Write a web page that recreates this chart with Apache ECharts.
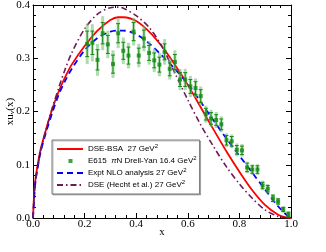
<!DOCTYPE html>
<html><head><meta charset="utf-8">
<script src="https://cdn.jsdelivr.net/npm/echarts@6.0.0/dist/echarts.min.js"></script>
<style>html,body{margin:0;padding:0;background:#fff}#c{width:326px;height:252px}</style>
</head><body><div id="c"></div>
<script>
// ---- data ----
const xTicks = [0.0, 0.2, 0.4, 0.6, 0.8, 1.0];
const yTicks = [0.0, 0.1, 0.2, 0.3, 0.4];

const curveX = [0, 0.005, 0.01, 0.02, 0.03, 0.05, 0.075, 0.1, 0.125, 0.15, 0.2, 0.25, 0.3, 0.33, 0.35, 0.4, 0.45, 0.5, 0.55, 0.6, 0.65, 0.7, 0.75, 0.8, 0.85, 0.9, 0.95, 0.98, 1.0];
const dseBsa = [0, 0.05, 0.075, 0.105, 0.13, 0.165, 0.205, 0.238, 0.265, 0.288, 0.323, 0.352, 0.372, 0.377, 0.377, 0.370, 0.350, 0.322, 0.288, 0.250, 0.208, 0.166, 0.125, 0.087, 0.052, 0.024, 0.006, 0.001, 0];
const exptNlo = [0, 0.04, 0.07, 0.10, 0.125, 0.16, 0.198, 0.232, 0.258, 0.280, 0.315, 0.338, 0.350, 0.352, 0.352, 0.345, 0.328, 0.305, 0.280, 0.252, 0.218, 0.183, 0.149, 0.117, 0.085, 0.053, 0.022, 0.007, 0];
const dseHecht = [0, 0.045, 0.07, 0.10, 0.127, 0.165, 0.207, 0.245, 0.28, 0.31, 0.355, 0.383, 0.395, 0.396, 0.394, 0.380, 0.358, 0.322, 0.272, 0.222, 0.175, 0.134, 0.096, 0.064, 0.037, 0.015, 0.003, 0.0005, 0];

const e615X = [0.21,0.23,0.25,0.27,0.29,0.31,0.33,0.35,0.37,0.39,0.41,0.43,0.45,0.47,0.49,0.51,0.53,0.55,0.57,0.59,0.61,0.63,0.65,0.67,0.69,0.71,0.73,0.75,0.77,0.79,0.81,0.83,0.85,0.87,0.89,0.91,0.93,0.95,0.97,0.99];
const e615Y = [0.327,0.329,0.297,0.347,0.326,0.289,0.347,0.314,0.305,0.350,0.305,0.337,0.310,0.296,0.288,0.312,0.280,0.293,0.260,0.260,0.247,0.244,0.229,0.195,0.187,0.184,0.176,0.146,0.144,0.128,0.127,0.095,0.091,0.091,0.061,0.055,0.037,0.031,0.016,0.007];
const e615ErrTot = [0.038,0.035,0.030,0.032,0.026,0.026,0.028,0.025,0.024,0.026,0.022,0.024,0.022,0.022,0.022,0.024,0.020,0.022,0.020,0.020,0.020,0.018,0.018,0.016,0.016,0.015,0.015,0.013,0.013,0.012,0.012,0.011,0.010,0.010,0.009,0.009,0.008,0.007,0.006,0.005];
const e615ErrStat = [0.024,0.022,0.019,0.020,0.017,0.017,0.018,0.016,0.016,0.017,0.014,0.016,0.014,0.014,0.014,0.015,0.013,0.014,0.013,0.013,0.013,0.012,0.012,0.011,0.011,0.010,0.010,0.009,0.009,0.008,0.008,0.008,0.007,0.007,0.006,0.006,0.006,0.005,0.004,0.004];

const names = {
  bsa: 'DSE-BSA  27 GeV{sup|2}',
  e615: 'E615  {it|π}N Drell-Yan 16.4 GeV{sup|2}',
  nlo: 'Expt NLO analysis 27 GeV{sup|2}',
  hecht: 'DSE (Hecht et al.) 27 GeV{sup|2}'
};

// ---- build ----
const pairs = (xs, ys) => xs.map((x, i) => [x, ys[i]]);
const errData = e615X.map((x, i) => [x, e615Y[i], e615ErrTot[i], e615ErrStat[i]]);

const chart = echarts.init(document.getElementById('c'), null, {renderer: 'canvas'});
const serif = 'Liberation Serif';
const sans = 'Liberation Sans';

function xAxisBase(pos, show) {
  return {
    type: 'value', position: pos, min: 0, max: 1, interval: 0.2,
    axisLine: {show: true, onZero: false, lineStyle: {color: '#000', width: 1}},
    axisTick: {show: true, inside: true, length: 5, lineStyle: {color: '#000'}},
    minorTick: {show: true, splitNumber: 5, length: 3, lineStyle: {color: '#000'}},
    splitLine: {show: false},
    axisLabel: {show: show, margin: 1, color: '#000', fontFamily: serif, fontSize: 11,
      formatter: v => v.toFixed(1)}
  };
}
function yAxisBase(pos, show) {
  return {
    type: 'value', position: pos, min: 0, max: 0.4, interval: 0.1,
    axisLine: {show: true, onZero: false, lineStyle: {color: '#000', width: 1}},
    axisTick: {show: true, inside: true, length: 5, lineStyle: {color: '#000'}},
    minorTick: {show: true, splitNumber: 5, length: 3, lineStyle: {color: '#000'}},
    splitLine: {show: false},
    axisLabel: {show: show, margin: 3, color: '#000', fontFamily: serif, fontSize: 11,
      formatter: v => v.toFixed(1)}
  };
}

const xB = xAxisBase('bottom', true);
xB.name = 'x'; xB.nameLocation = 'middle'; xB.nameGap = 9; xB.nameMoveOverlap = false;
xB.nameTextStyle = {color: '#000', fontFamily: serif, fontSize: 11};
const yL = yAxisBase('left', true);
yL.name = 'xu{sub|v}(x)'; yL.nameLocation = 'middle'; yL.nameGap = 17; yL.nameMoveOverlap = false;
yL.nameTextStyle = {color: '#000', fontFamily: serif, fontSize: 11,
  rich: {sub: {fontFamily: serif, fontSize: 7, verticalAlign: 'bottom', padding: [4, 0, 0, 0]}}};

const iconSquare = 'path://M0,0M26,9M11.5,2.5h4v4h-4z';

chart.setOption({
  animation: false,
  backgroundColor: '#fff',
  grid: {left: 33, right: 35, top: 5, bottom: 34, containLabel: false, outerBoundsMode: 'none'},
  xAxis: [xB, xAxisBase('top', false)],
  yAxis: [yL, yAxisBase('right', false)],
  legend: {
    orient: 'vertical', left: 52, top: 140,
    padding: [3, 3, 3, 4], itemGap: 0, itemWidth: 26, itemHeight: 9,
    backgroundColor: '#fff', borderColor: '#777', borderWidth: 1, borderRadius: 0,
    shadowColor: 'rgba(0,0,0,0.25)', shadowOffsetX: 1, shadowOffsetY: 1, shadowBlur: 0,
    selectedMode: false,
    data: [
      {name: 'bsa', itemStyle: {opacity: 0}},
      {name: 'e615', icon: iconSquare},
      {name: 'nlo', itemStyle: {opacity: 0}},
      {name: 'hecht', itemStyle: {opacity: 0}}
    ],
    formatter: n => names[n],
    textStyle: {color: '#000', fontFamily: sans, fontSize: 8, lineHeight: 12,
      rich: {sup: {fontFamily: sans, fontSize: 6, verticalAlign: 'top', lineHeight: 12, padding: [0, 0, 4, 0]},
             it: {fontFamily: sans, fontSize: 8, fontStyle: 'italic'}}}
  },
  series: [
    {name: 'bsa', type: 'line', data: pairs(curveX, dseBsa), smooth: 0.3, symbol: 'none',
      lineStyle: {color: '#ff0000', width: 1.8}, itemStyle: {color: '#ff0000'}, z: 3},
    {name: 'nlo', type: 'line', data: pairs(curveX, exptNlo), smooth: 0.3, symbol: 'none',
      lineStyle: {color: '#0000ff', width: 1.8, type: [6, 4]}, itemStyle: {color: '#0000ff'}, z: 3},
    {name: 'hecht', type: 'line', data: pairs(curveX, dseHecht), smooth: 0.3, symbol: 'none',
      lineStyle: {color: '#6e1a56', width: 1.6, type: [6, 3, 1.5, 3]}, itemStyle: {color: '#6e1a56'}, z: 3},
    {name: 'e615err', type: 'custom', data: errData, z: 4,
      renderItem: (params, api) => {
        const x = api.value(0), y = api.value(1), et = api.value(2), es = api.value(3);
        const pTop = api.coord([x, y + et]), pBot = api.coord([x, y - et]);
        const sTop = api.coord([x, y + es]), sBot = api.coord([x, y - es]);
        return {type: 'group', children: [
          {type: 'line', shape: {x1: pTop[0], y1: pTop[1], x2: pBot[0], y2: pBot[1]},
            style: {stroke: 'rgba(110,190,110,0.55)', lineWidth: 3}},
          {type: 'line', shape: {x1: sTop[0], y1: sTop[1], x2: sBot[0], y2: sBot[1]},
            style: {stroke: '#138a13', lineWidth: 1}},
          {type: 'line', shape: {x1: sTop[0] - 2, y1: sTop[1], x2: sTop[0] + 2, y2: sTop[1]},
            style: {stroke: '#138a13', lineWidth: 1}},
          {type: 'line', shape: {x1: sBot[0] - 2, y1: sBot[1], x2: sBot[0] + 2, y2: sBot[1]},
            style: {stroke: '#138a13', lineWidth: 1}}
        ]};
      }},
    {name: 'e615', type: 'scatter', data: pairs(e615X, e615Y), symbol: 'rect', symbolSize: 4,
      itemStyle: {color: '#138a13'}, z: 5}
  ]
});
</script></body></html>
